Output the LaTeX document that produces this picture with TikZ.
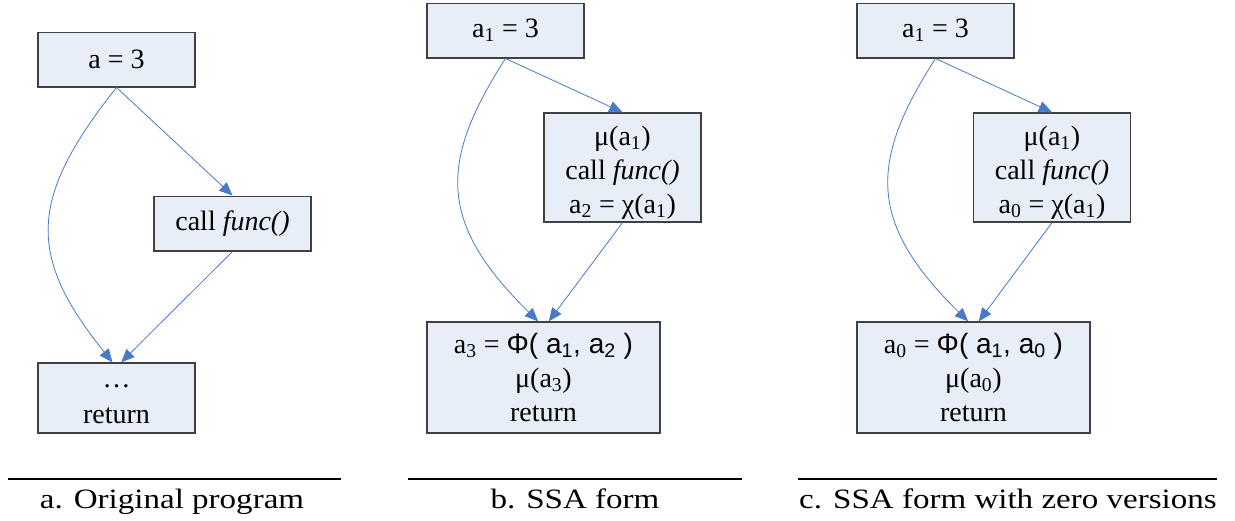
\documentclass[tikz,border=0pt]{standalone}
\usepackage{fontspec}
\setmainfont{Liberation Serif}
\newfontfamily\arialfont{Liberation Sans}
\newfontfamily\capfont[FakeStretch=1.18]{Liberation Serif}
\usepackage{tikz}
\usetikzlibrary{arrows.meta}
\definecolor{boxfill}{RGB}{232,238,248}
\definecolor{boxline}{RGB}{64,64,64}
\definecolor{flowblue}{RGB}{72,122,200}
\newcommand{\sbs}[1]{\textsubscript{#1}}
\newcommand{\lift}[1]{\rule{0pt}{#1}}

\begin{document}
\begin{tikzpicture}[
  x=0.75pt, y=-0.75pt,
  stmt/.style={rectangle, draw=boxline, fill=boxfill, line width=1pt,
               minimum width=117.75pt, minimum height=41pt,
               align=center, inner sep=0pt,
               font=\fontsize{21}{25.5}\selectfont},
  flow/.style={-{Triangle[length=10pt, width=8.5pt]}, draw=flowblue,
               line width=0.6pt},
  rulebar/.style={line width=1pt, draw=black},
  captext/.style={anchor=base, font=\capfont\fontsize{21}{24}\selectfont}
]
\useasboundingbox (0,0) rectangle (1235,521);

%% --- a. original program ---
\node[stmt] (a1) at (116.5, 59.5) {a = 3};
\node[stmt] (acall) at (232.5, 223.5) {call \textit{func()}};
\node[stmt, minimum height=52.5pt] (aret) at (116.5, 398)
  {\lift{12pt}…\\[1.5pt]return};

\draw[flow] (a1.south) -- (acall.north);
\draw[flow] (a1.south) .. controls +(-89,112) and +(-85,-106)
      .. ([xshift=-3pt]aret.north);
\draw[flow] (acall.south) -- ([xshift=3.5pt]aret.north);

%% --- b. SSA form ---
\node[stmt] (b1) at (505.5, 30.5) {a\sbs{1} = 3};
\node[stmt, minimum height=81.75pt] (bcall) at (622.5, 167.5)
  {\lift{22pt}μ(a\sbs{1})\\call \textit{func()}\\a\sbs{2} = χ(a\sbs{1})};
\node[stmt, minimum width=174.75pt, minimum height=83.25pt] (bphi) at (543.5, 377.5)
  {a\sbs{3} = {\arialfont Φ( a\sbs{1}, a\sbs{2} )}\\μ(a\sbs{3})\\return};

\draw[flow] (b1.south) -- (bcall.north);
\draw[flow] (b1.south) .. controls +(-67,104) and +(-100,-98)
      .. ([xshift=-4pt]bphi.north);
\draw[flow] (bcall.south) -- ([xshift=4pt]bphi.north);

%% --- c. SSA form with zero versions ---
\node[stmt] (c1) at (935.5, 30.5) {a\sbs{1} = 3};
\node[stmt, minimum height=81.75pt] (ccall) at (1052, 167.5)
  {\lift{22pt}μ(a\sbs{1})\\call \textit{func()}\\a\sbs{0} = χ(a\sbs{1})};
\node[stmt, minimum width=174.75pt, minimum height=83.25pt] (cphi) at (973.5, 377.5)
  {a\sbs{0} = {\arialfont Φ( a\sbs{1}, a\sbs{0} )}\\μ(a\sbs{0})\\return};

\draw[flow] (c1.south) -- (ccall.north);
\draw[flow] (c1.south) .. controls +(-67,104) and +(-100,-98)
      .. ([xshift=-4pt]cphi.north);
\draw[flow] (ccall.south) -- ([xshift=4pt]cphi.north);

%% --- captions ---
\draw[rulebar] (8,479) -- (341,479);
\draw[rulebar] (408,479) -- (742,479);
\draw[rulebar] (798,479) -- (1217,479);
\node[captext] (capa) at (172, 508) {a. Original program};
\node[captext] (capb) at (575, 508) {b. SSA form};
\node[captext] (capc) at (1008, 508) {c. SSA form with zero versions};

\end{tikzpicture}
\end{document}
